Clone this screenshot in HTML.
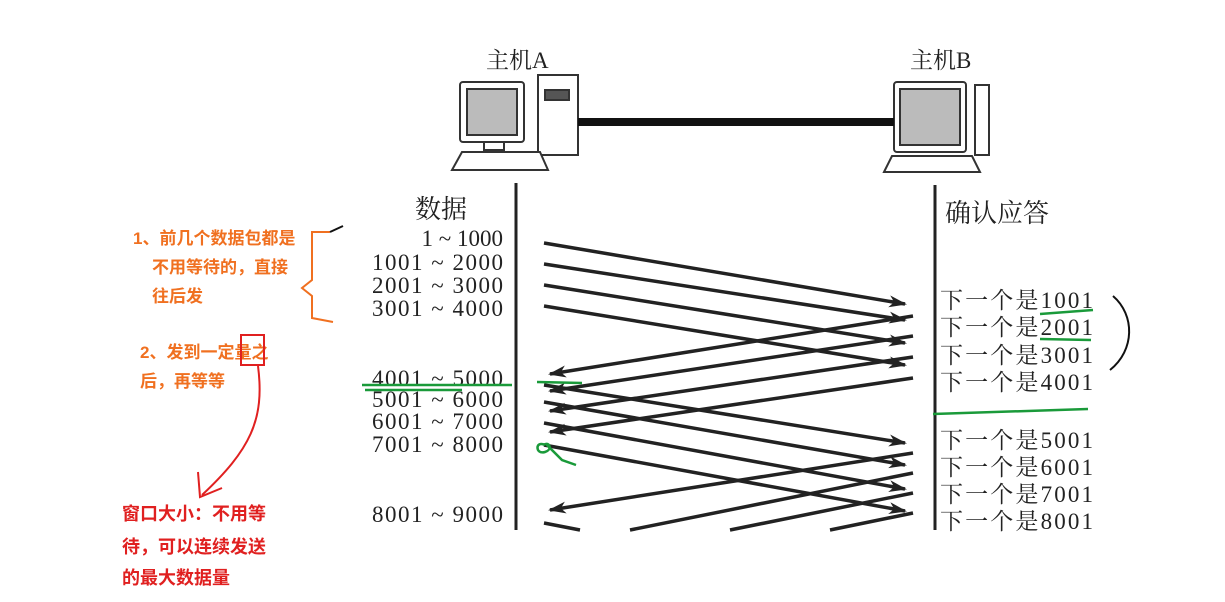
<!DOCTYPE html>
<html><head><meta charset="utf-8"><style>
body{margin:0;background:#fff;}
svg{display:block}
.s{font-family:"Liberation Serif","Noto Serif CJK SC",serif;fill:#222;}
.o{font-family:"Liberation Sans","Noto Sans CJK SC",sans-serif;font-weight:bold;font-size:17px;fill:#f07020;}
.r{font-family:"Liberation Sans","Noto Sans CJK SC",sans-serif;font-weight:bold;font-size:18px;fill:#e02020;}
</style></head><body>
<svg width="1225" height="602" viewBox="0 0 1225 602" xmlns="http://www.w3.org/2000/svg">
<defs>
<marker id="ar" markerWidth="18" markerHeight="12" refX="16" refY="6" orient="auto" markerUnits="userSpaceOnUse">
<path d="M0,0 L18,6 L0,12 L5,6 Z" fill="#222"/></marker>
</defs>
<!-- computers -->
<text x="486" y="68" class="s" font-size="23">主机A</text>
<text x="910" y="68" class="s" font-size="23">主机B</text>
<g stroke="#333" stroke-width="2" fill="#fff">
<rect x="460" y="82" width="64" height="60" rx="3"/>
<rect x="467" y="89" width="50" height="46" fill="#bbb"/>
<rect x="538" y="75" width="40" height="80"/>
<rect x="545" y="90" width="24" height="10" fill="#555"/>
<path d="M452,170 L462,152 L540,152 L548,170 Z"/>
<rect x="484" y="142" width="20" height="8"/>
<rect x="894" y="82" width="72" height="70" rx="3"/>
<rect x="900" y="89" width="60" height="56" fill="#bbb"/>
<rect x="975" y="85" width="14" height="70"/>
<path d="M884,172 L892,156 L972,156 L980,172 Z"/>
</g>
<rect x="578" y="118" width="316" height="8" fill="#111"/>
<!-- vertical lines -->
<line x1="516" y1="183" x2="516" y2="530" stroke="#222" stroke-width="3"/>
<line x1="935" y1="185" x2="935" y2="530" stroke="#222" stroke-width="3"/>
<text x="415" y="218" class="s" font-size="26">数据</text>
<text x="945" y="222" class="s" font-size="26">确认应答</text>
<g class="s" font-size="23" text-anchor="end">
<text x="503" y="246">1 ~ 1000</text>
<text x="503" y="270" textLength="131">1001 ~ 2000</text>
<text x="503" y="293" textLength="131">2001 ~ 3000</text>
<text x="503" y="316" textLength="131">3001 ~ 4000</text>
<text x="503" y="386" textLength="131">4001 ~ 5000</text>
<text x="503" y="407" textLength="131">5001 ~ 6000</text>
<text x="503" y="429" textLength="131">6001 ~ 7000</text>
<text x="503" y="452" textLength="131">7001 ~ 8000</text>
<text x="503" y="522" textLength="131">8001 ~ 9000</text>
</g>
<g class="s" font-size="23">
<text x="940" y="308" textLength="153">下一个是1001</text>
<text x="940" y="335" textLength="153">下一个是2001</text>
<text x="940" y="363" textLength="153">下一个是3001</text>
<text x="940" y="390" textLength="153">下一个是4001</text>
<text x="940" y="448" textLength="153">下一个是5001</text>
<text x="940" y="475" textLength="153">下一个是6001</text>
<text x="940" y="502" textLength="153">下一个是7001</text>
<text x="940" y="529" textLength="153">下一个是8001</text>
</g>
<g stroke="#222" stroke-width="3.5" marker-end="url(#ar)">
<line x1="544" y1="243" x2="905" y2="304"/>
<line x1="544" y1="264" x2="905" y2="320"/>
<line x1="544" y1="285" x2="905" y2="343"/>
<line x1="544" y1="306" x2="905" y2="365"/>
<line x1="913" y1="316" x2="550" y2="374"/>
<line x1="913" y1="336" x2="550" y2="391"/>
<line x1="913" y1="357" x2="550" y2="411"/>
<line x1="913" y1="378" x2="550" y2="432"/>
<line x1="544" y1="385" x2="905" y2="443"/>
<line x1="544" y1="402" x2="905" y2="465"/>
<line x1="544" y1="423" x2="905" y2="489"/>
<line x1="544" y1="445" x2="905" y2="511"/>
<line x1="913" y1="453" x2="550" y2="510"/>
</g>
<g stroke="#222" stroke-width="3.5">
<line x1="913" y1="473" x2="630" y2="530"/>
<line x1="913" y1="493" x2="730" y2="530"/>
<line x1="913" y1="513" x2="830" y2="530"/>
<line x1="544" y1="523" x2="580" y2="530"/>
</g>
<!-- annotations -->
<text x="133" y="244" class="o">1、前几个数据包都是</text>
<text x="152" y="273" class="o">不用等待的，直接</text>
<text x="152" y="302" class="o">往后发</text>
<text x="140" y="358" class="o">2、发到一定量之</text>
<text x="140" y="387" class="o">后，再等等</text>
<path d="M330,232 L312,232 L312,280 L302,288 L312,296 L312,318 L333,322" fill="none" stroke="#f07020" stroke-width="2"/>
<path d="M330,232 L343,226" stroke="#111" stroke-width="2"/>
<rect x="241" y="335" width="23" height="30" fill="none" stroke="#e02020" stroke-width="2"/>
<path d="M258,366 C265,420 250,450 202,495" fill="none" stroke="#e02020" stroke-width="2"/>
<path d="M198,472 L200,497 L222,488" fill="none" stroke="#e02020" stroke-width="2"/>
<text x="122" y="520" class="r">窗口大小：不用等</text>
<text x="122" y="553" class="r">待，可以连续发送</text>
<text x="122" y="584" class="r">的最大数据量</text>
<g stroke="#1a9a3a" stroke-width="2.5" fill="none">
<line x1="362" y1="385" x2="512" y2="385"/>
<line x1="365" y1="390" x2="462" y2="390"/>
<line x1="537" y1="382" x2="582" y2="383"/>
<line x1="933" y1="414" x2="1088" y2="409"/>
<line x1="1040" y1="314" x2="1093" y2="310"/>
<line x1="1040" y1="339" x2="1091" y2="340"/>
<path d="M545,445 C535,440 535,455 545,452 C552,450 550,443 546,444 L562,460 L576,465"/>
</g>
<path d="M1113,296 C1135,315 1135,350 1110,370" fill="none" stroke="#111" stroke-width="2"/>
</svg>
</body></html>
